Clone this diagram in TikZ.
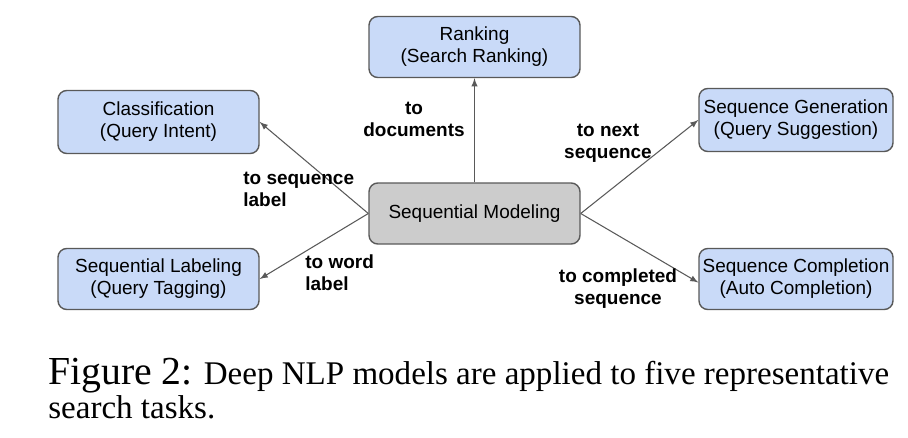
\documentclass[tikz,border=0pt]{standalone}
\usepackage{fontspec}
\setmainfont{Liberation Serif}
\newfontfamily\arialfont{Liberation Sans}
\definecolor{taskblue}{HTML}{C9DAF8}
\definecolor{hubgray}{HTML}{CCCCCC}
\definecolor{edgegray}{HTML}{595959}

\begin{document}
\begin{tikzpicture}[>=latex,font=\arialfont\fontsize{10.8}{12.6}\selectfont,
  nd/.style={draw=edgegray,thick,rounded corners=5pt,inner sep=2pt,minimum height=12.2mm,align=center},
  task/.style={nd,fill=taskblue},
  hub/.style={nd,fill=hubgray,minimum width=42.2mm},
  lbl/.style={font=\arialfont\bfseries\fontsize{10.8}{12.6}\selectfont,inner sep=0pt},
  arr/.style={->,draw=edgegray,semithick}]
  \useasboundingbox (0,0) rectangle (18.16,8.74);
  \node[hub] (sm)   at (9.49,4.47)  {Sequential Modeling};
  \node[task,minimum width=42.2mm] (rank) at (9.49,7.80)  {Ranking\\(Search Ranking)};
  \node[task,minimum width=40.2mm,minimum height=12.6mm] (cls) at (3.17,6.30) {Classification\\(Query Intent)};
  \node[task,minimum width=40.2mm] (lab)  at (3.17,3.16)  {Sequential Labeling\\(Query Tagging)};
  \node[task,minimum width=38.8mm,minimum height=12.6mm] (gen) at (15.92,6.34) {Sequence Generation\\(Query Suggestion)};
  \node[task,minimum width=38.8mm] (cmp)  at (15.92,3.16) {Sequence Completion\\(Auto Completion)};
  \draw[arr] (sm.north) -- (rank.south);
  \draw[arr] (sm.west)  -- (cls.east);
  \draw[arr] (sm.west)  -- (lab.east);
  \draw[arr] (sm.east)  -- (gen.west);
  \draw[arr] (sm.east)  -- ([yshift=-2pt]cmp.west);
  \node[lbl,align=center] (ldoc) at (8.28,6.36) {to\\documents};
  \node[lbl,align=left,anchor=west] (lseq) at (4.86,4.95) {to sequence\\label};
  \node[lbl,align=left,anchor=west] (lwrd) at (6.10,3.28) {to word\\label};
  \node[lbl,align=center] (lnxt) at (12.16,5.88) {to next\\sequence};
  \node[lbl,align=center] (lcmp) at (12.36,2.96) {to completed\\sequence};
  % caption: base anchor sits on the last line
  \node[anchor=base west,align=left,inner sep=0pt,font=\rmfamily\fontsize{18.8}{17}\selectfont] (cap) at (0.96,0.38)
    {{\fontsize{22.6}{17}\selectfont Figure 2:} Deep NLP models are applied to five representative\\search tasks.};
\end{tikzpicture}
\end{document}
